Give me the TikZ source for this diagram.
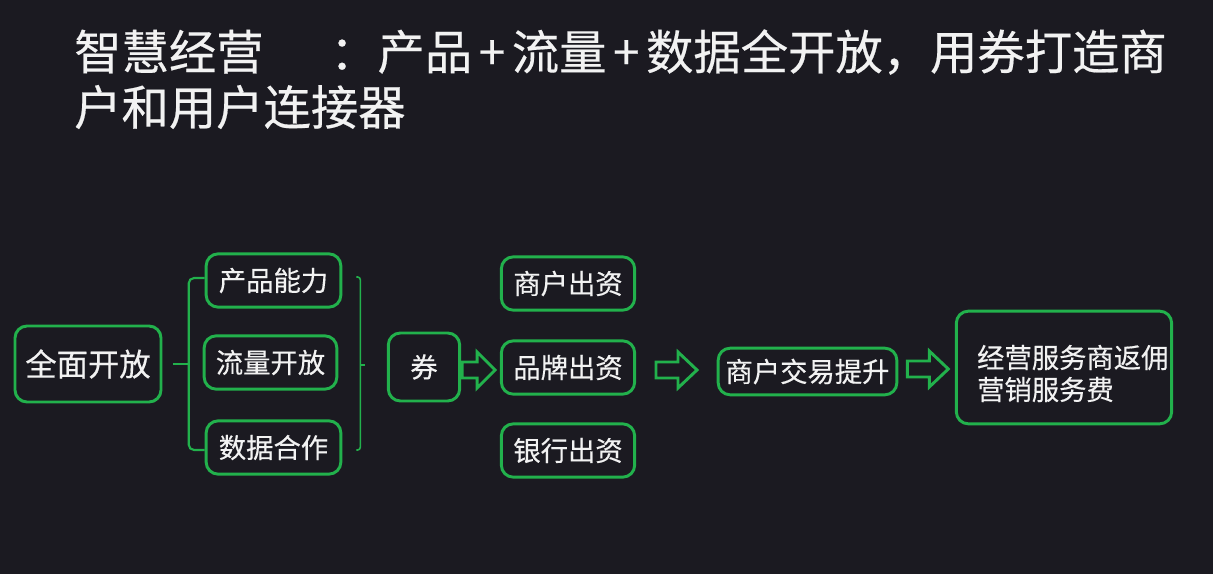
\documentclass[tikz,border=0pt]{standalone}
\usepackage{fontspec}
\setmainfont{Noto Sans CJK SC}[FakeBold=0.4,AutoFakeBold=0]
\usetikzlibrary{calc}
\definecolor{bg}{HTML}{1B1A21}
\definecolor{gr}{HTML}{22B14C}
\definecolor{tx}{HTML}{F2F2F2}
\newcommand{\pls}{\hspace{5pt}+\hspace{5pt}}
\begin{document}
\begin{tikzpicture}[x=0.75pt,y=-0.75pt,
  box/.style={draw=gr, line width=2.2pt, rounded corners=9pt, text=tx,
    font=\fontsize{20.5}{24}\selectfont, inner sep=0pt, align=center},
  txt/.style={text=tx, inner sep=0pt},
  harrow/.style={draw=gr, line width=2.2pt, line join=miter},
  brk/.style={draw=gr, line width=1.6pt}]
\fill[bg] (0,0) rectangle (1213,574);
\useasboundingbox (0,0) rectangle (1213,574);

% title
\node[txt, anchor=west, font=\fontsize{35.5}{42}\selectfont] (t1) at (74,52)
  {智慧经营\hspace{50pt}：产品\pls 流量\pls 数据全开放，用券打造商};
\node[txt, anchor=west, font=\fontsize{35.5}{42}\selectfont] (t2) at (74,107)
  {户和用户连接器};

% boxes
\node[box, minimum width=109.5pt, minimum height=57pt, font=\fontsize{23.5}{28}\selectfont] (qmkf) at (88,364) {全面开放};
\node[box, minimum width=101pt, minimum height=40pt] (cpnl) at (273.5,280.5) {产品能力};
\node[box, minimum width=99.5pt, minimum height=40pt] (llkf) at (270.5,362.5) {流量开放};
\node[box, minimum width=101pt, minimum height=40pt] (sjhz) at (273.5,447.5) {数据合作};
\node[box, minimum width=53.5pt, minimum height=51pt] (quan) at (424,367) {券};
\node[box, minimum width=100pt, minimum height=40pt] (shcz) at (568,283.5) {商户出资};
\node[box, minimum width=100pt, minimum height=40pt] (ppcz) at (568,367.5) {品牌出资};
\node[box, minimum width=100pt, minimum height=40pt] (yhcz) at (568,450.5) {银行出资};
\node[box, minimum width=134pt, minimum height=35pt] (shjy) at (807.5,371.5) {商户交易提升};
\node[box, minimum width=161.5pt, minimum height=84.5pt] (fin) at (1064,367.5) {};
\node[txt, anchor=west, align=left, font=\fontsize{20.5}{24}\selectfont] (fintxt) at ($(fin.west)+(22,6)$)
  {经营服务商返佣\\营销服务费};

% left bracket
\coordinate (lb) at ($(qmkf.east)+(11,0)$);
\draw[brk, rounded corners=4pt] (cpnl.west |- 0,278) -- ++(-16,0) |- (sjhz.west |- 0,450);
\draw[brk] (lb) -- ($(lb)+(15,0)$);

% right bracket
\coordinate (rb) at ($(cpnl.east)+(18,0)$);
\draw[brk, line width=1.2pt, rounded corners=2pt] ($(rb |- 0,277)+(-4,0)$) -- (rb |- 0,277) -- (rb |- 0,450) -- ($(rb |- 0,450)+(-4,0)$);
\draw[brk, line width=1.2pt] (rb |- 0,365) -- ++(5,0);

% hollow arrows
\coordinate (a1) at ($(quan.east)+(1,3)$);
\draw[harrow] (a1) ++(0,-8) -- ++(15,0) -- ++(0,-10) -- ++(18,18) -- ++(-18,18) -- ++(0,-10) -- ++(-15,0) -- cycle;
\coordinate (a2) at (656,370);
\draw[harrow] (a2) ++(0,-8) -- ++(22,0) -- ++(0,-10) -- ++(19,18) -- ++(-19,18) -- ++(0,-10) -- ++(-22,0) -- cycle;
\coordinate (a3) at ($(shjy.east)+(9,-2.5)$);
\draw[harrow] (a3) ++(0,-8) -- ++(22,0) -- ++(0,-10) -- ++(19,18) -- ++(-19,18) -- ++(0,-10) -- ++(-22,0) -- cycle;
\end{tikzpicture}
\end{document}
